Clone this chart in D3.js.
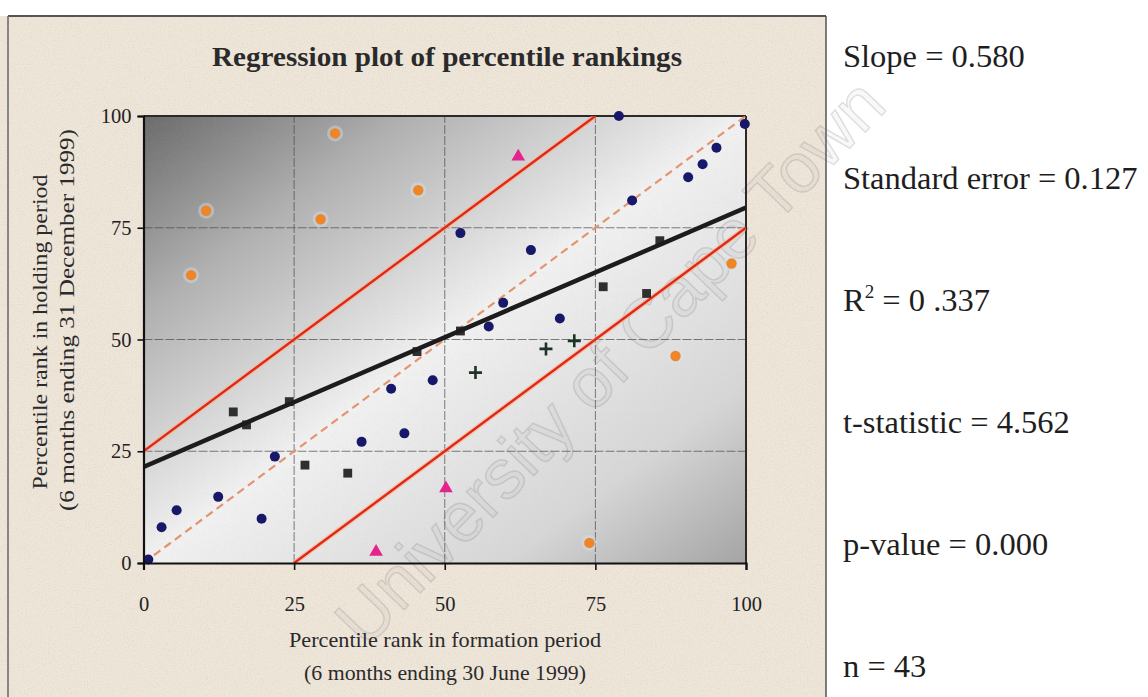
<!DOCTYPE html>
<html>
<head>
<meta charset="utf-8">
<script src="https://cdn.jsdelivr.net/npm/d3@7"></script>
<style>
  html, body { margin: 0; padding: 0; background: #ffffff; }
  svg { display: block; }
  text { font-family: "Liberation Serif", "Times New Roman", serif; }
</style>
</head>
<body>
<div id="chart"></div>
<script>
// ---------------- DATA ----------------
const chartTitle = "Regression plot of percentile rankings";
const xTitleLines = ["Percentile rank in formation period", "(6 months ending 30 June 1999)"];
const yTitleLines = ["Percentile rank in holding period", "(6 months ending 31 December 1999)"];
const tickValues = [0, 25, 50, 75, 100];
const gridValues = [25, 50, 75];

// [formation rank, holding rank]
const bluePoints = [
  [0.8, 0.8], [3, 8], [5.5, 11.8], [12.4, 14.8], [19.6, 9.9], [21.8, 23.8],
  [36.2, 27.1], [41.1, 39], [43.3, 29], [48, 40.9], [52.6, 73.8], [57.3, 52.9],
  [59.7, 58.2], [64.3, 70], [69.1, 54.7], [78.9, 100], [81.1, 81.1], [90.4, 86.3],
  [92.8, 89.2], [95.1, 92.9], [99.8, 98.2]
];
const squarePoints = [
  [14.9, 33.8], [17.1, 30.9], [24.2, 36.1], [26.8, 21.9], [33.9, 20.1],
  [45.4, 47.3], [52.6, 51.9], [76.3, 61.8], [83.5, 60.3], [85.7, 72.1]
];
const orangePoints = [
  [7.9, 64.4], [10.4, 78.8], [29.4, 76.9], [31.8, 96.1], [45.6, 83.4],
  [74, 4.5], [88.3, 46.3], [97.6, 67]
];
const trianglePoints = [[38.6, 2.5], [50.2, 16.7], [62.2, 90.9]];
const plusPoints = [[55.1, 42.6], [66.8, 47.9], [71.5, 49.7]];

// reference lines
const regressionLine = [[0, 21.5], [100, 79.5]];
const diagonalLine = [[0, 0], [100, 100]];
const upperBand = [[0, 25], [75, 100]];
const lowerBand = [[25, 0], [100, 75]];

const statLines = [
  {label: "Slope = 0.580"},
  {label: "Standard error = 0.127"},
  {label: "R", sup: "2", rest: " = 0 .337"},
  {label: "t-statistic = 4.562"},
  {label: "p-value = 0.000"},
  {label: "n = 43"}
];
const watermark = "University of Cape Town";

// ---------------- LAYOUT ----------------
const W = 1148, H = 697;
const plot = {left: 143.5, right: 746, top: 116, bottom: 563};

const svg = d3.select("#chart").append("svg")
  .attr("width", W).attr("height", H);

const defs = svg.append("defs");

const grad = defs.append("linearGradient").attr("id", "plotGrad")
  .attr("x1", 0).attr("y1", 0).attr("x2", 1).attr("y2", 1);
grad.append("stop").attr("offset", 0).attr("stop-color", "#6a6a6a");
grad.append("stop").attr("offset", 0.22).attr("stop-color", "#b0b0b0");
grad.append("stop").attr("offset", 0.5).attr("stop-color", "#f1f1f1");
grad.append("stop").attr("offset", 0.8).attr("stop-color", "#d6d6d6");
grad.append("stop").attr("offset", 1).attr("stop-color", "#a4a4a4");

const paper = defs.append("filter").attr("id", "paperNoise")
  .attr("x", 0).attr("y", 0).attr("width", 1).attr("height", 1);
paper.append("feTurbulence").attr("type", "fractalNoise")
  .attr("baseFrequency", 0.7).attr("numOctaves", 2).attr("seed", 7).attr("result", "n");
paper.append("feColorMatrix").attr("in", "n").attr("type", "matrix")
  .attr("values", "0 0 0 0 0.62  0 0 0 0 0.55  0 0 0 0 0.47  0 0 0 -2.2 1.25");

const speck = defs.append("filter").attr("id", "plotNoise")
  .attr("x", 0).attr("y", 0).attr("width", 1).attr("height", 1);
speck.append("feTurbulence").attr("type", "fractalNoise")
  .attr("baseFrequency", 1.1).attr("numOctaves", 1).attr("seed", 3).attr("result", "n");
speck.append("feColorMatrix").attr("in", "n").attr("type", "matrix")
  .attr("values", "0 0 0 0 0.5  0 0 0 0 0.5  0 0 0 0 0.5  0 0 0 -2.4 1.2");

defs.append("clipPath").attr("id", "plotClip")
  .append("rect")
  .attr("x", plot.left).attr("y", plot.top)
  .attr("width", plot.right - plot.left).attr("height", plot.bottom - plot.top);

// page background
svg.append("rect").attr("x", 0).attr("y", 0).attr("width", 826).attr("height", H)
  .attr("fill", "#efe6da");
svg.append("rect").attr("x", 0).attr("y", 0).attr("width", 826).attr("height", H)
  .attr("filter", "url(#paperNoise)").attr("opacity", 0.35);
svg.append("rect").attr("x", 826).attr("y", 0).attr("width", W - 826).attr("height", H)
  .attr("fill", "#ffffff");
svg.append("rect").attr("x", 0).attr("y", 0).attr("width", 826).attr("height", 16)
  .attr("fill", "#ffffff");

// frame lines
svg.append("line").attr("x1", 8).attr("x2", 826).attr("y1", 16).attr("y2", 16)
  .attr("stroke", "#555").attr("stroke-width", 2);
svg.append("line").attr("x1", 8).attr("x2", 8).attr("y1", 16).attr("y2", H)
  .attr("stroke", "#666").attr("stroke-width", 1.5);
svg.append("line").attr("x1", 826).attr("x2", 826).attr("y1", 16).attr("y2", H)
  .attr("stroke", "#555").attr("stroke-width", 1.5);

// scales
const x = d3.scaleLinear().domain([0, 100]).range([plot.left, plot.right]);
const y = d3.scaleLinear().domain([0, 100]).range([plot.bottom, plot.top]);

// plot area
svg.append("rect")
  .attr("x", x(0)).attr("y", y(100))
  .attr("width", x(100) - x(0)).attr("height", y(0) - y(100))
  .attr("fill", "url(#plotGrad)");
svg.append("rect")
  .attr("x", x(0)).attr("y", y(100))
  .attr("width", x(100) - x(0)).attr("height", y(0) - y(100))
  .attr("filter", "url(#plotNoise)").attr("opacity", 0.18);

// faint scan watermark (behind chart marks)
svg.append("text")
  .attr("transform", "translate(610,362) rotate(-46)")
  .attr("text-anchor", "middle")
  .attr("dominant-baseline", "central")
  .style("font-family", "'Liberation Sans', Arial, sans-serif")
  .style("font-size", "70px")
  .attr("fill", "rgba(140,140,140,0.06)")
  .attr("stroke", "rgba(110,110,110,0.20)")
  .attr("stroke-width", 1.5)
  .text(watermark);

// gridlines
const grid = svg.append("g");
grid.selectAll("line.gx").data(gridValues).join("line")
  .attr("x1", d => x(d)).attr("x2", d => x(d))
  .attr("y1", y(0)).attr("y2", y(100))
  .attr("stroke", "#4a4a4a").attr("stroke-width", 1)
  .attr("stroke-dasharray", "9,2").attr("opacity", 0.7);
grid.selectAll("line.gy").data(gridValues).join("line")
  .attr("y1", d => y(d)).attr("y2", d => y(d))
  .attr("x1", x(0)).attr("x2", x(100))
  .attr("stroke", "#4a4a4a").attr("stroke-width", 1)
  .attr("stroke-dasharray", "9,2").attr("opacity", 0.7);

// plot border (top/right)
svg.append("line").attr("x1", x(0)).attr("x2", x(100)).attr("y1", y(100)).attr("y2", y(100))
  .attr("stroke", "#2a2a2a").attr("stroke-width", 2);
svg.append("line").attr("x1", x(100)).attr("x2", x(100)).attr("y1", y(100)).attr("y2", y(0))
  .attr("stroke", "#2a2a2a").attr("stroke-width", 2);

const lineGen = d3.line().x(d => x(d[0])).y(d => y(d[1]));
const lines = svg.append("g").attr("clip-path", "url(#plotClip)");

// dashed 45-degree line
lines.append("path").datum(diagonalLine).attr("d", lineGen)
  .attr("fill", "none").attr("stroke", "#e39470").attr("stroke-width", 2.2)
  .attr("stroke-dasharray", "8,5");

// red band lines (with soft halo)
[upperBand, lowerBand].forEach(band => {
  lines.append("path").datum(band).attr("d", lineGen)
    .attr("fill", "none").attr("stroke", "#f7b58a").attr("stroke-width", 5).attr("opacity", 0.6);
  lines.append("path").datum(band).attr("d", lineGen)
    .attr("fill", "none").attr("stroke", "#e0281a").attr("stroke-width", 2.4);
});

const marks = svg.append("g");

// squares
marks.selectAll("path.sq").data(squarePoints).join("path")
  .attr("transform", d => `translate(${x(d[0])},${y(d[1])})`)
  .attr("d", d3.symbol().type(d3.symbolSquare).size(78))
  .attr("fill", "#2f2f2f");

// regression line
svg.append("path").datum(regressionLine).attr("d", lineGen)
  .attr("clip-path", "url(#plotClip)")
  .attr("fill", "none").attr("stroke", "#1c1c1c").attr("stroke-width", 4.5);

// orange circles (with pale halo)
const og = svg.append("g");
og.selectAll("circle.halo").data(orangePoints).join("circle")
  .attr("cx", d => x(d[0])).attr("cy", d => y(d[1])).attr("r", 8)
  .attr("fill", "#d6e4f2").attr("opacity", 0.4);
og.selectAll("circle.dot").data(orangePoints).join("circle")
  .attr("cx", d => x(d[0])).attr("cy", d => y(d[1])).attr("r", 5.2)
  .attr("fill", "#ee8526");

// blue circles
svg.append("g").selectAll("circle").data(bluePoints).join("circle")
  .attr("cx", d => x(d[0])).attr("cy", d => y(d[1])).attr("r", 5)
  .attr("fill", "#18186a");

// magenta triangles
svg.append("g").selectAll("path").data(trianglePoints).join("path")
  .attr("transform", d => `translate(${x(d[0])},${y(d[1])})`)
  .attr("d", d3.symbol().type(d3.symbolTriangle).size(80))
  .attr("fill", "#e4238c");

// plus signs
svg.append("g").selectAll("path").data(plusPoints).join("path")
  .attr("transform", d => `translate(${x(d[0])},${y(d[1])})`)
  .attr("d", "M-6.5,0H6.5M0,-6.5V6.5")
  .attr("stroke", "#1d3326").attr("stroke-width", 2.6).attr("fill", "none");

// axes
const yAxis = svg.append("g").attr("transform", `translate(${x(0)},0)`)
  .call(d3.axisLeft(y).tickValues(tickValues).tickSize(6).tickPadding(6).tickFormat(d3.format("d")));
const xAxis = svg.append("g").attr("transform", `translate(0,${y(0)})`)
  .call(d3.axisBottom(x).tickValues(tickValues).tickSize(7).tickPadding(26).tickFormat(d3.format("d")));
[yAxis, xAxis].forEach(a => {
  a.select(".domain").attr("stroke", "#111").attr("stroke-width", 2.2);
  a.selectAll(".tick line").attr("stroke", "#111").attr("stroke-width", 1.6);
  a.selectAll(".tick text")
    .style("font-family", "'Liberation Serif', 'Times New Roman', serif")
    .style("font-size", "20.5px").attr("fill", "#222");
});

// title
svg.append("text")
  .attr("x", 447).attr("y", 66)
  .attr("text-anchor", "middle")
  .style("font-size", "27px").style("font-weight", "bold").attr("fill", "#2a2a2a")
  .attr("textLength", 470).attr("lengthAdjust", "spacingAndGlyphs")
  .text(chartTitle);

// x axis title
const xTitleLens = [312, 282];
xTitleLines.forEach((t, i) => {
  svg.append("text")
    .attr("x", 445).attr("y", 647 + i * 33)
    .attr("text-anchor", "middle")
    .style("font-size", "22px").attr("fill", "#2a2a2a")
    .attr("textLength", xTitleLens[i]).attr("lengthAdjust", "spacingAndGlyphs")
    .text(t);
});

// y axis title
const yTitleLens = [315, 382];
const yTitleCenters = [332, 320];
yTitleLines.forEach((t, i) => {
  svg.append("text")
    .attr("transform", `translate(${47 + i * 27},${yTitleCenters[i]}) rotate(-90)`)
    .attr("text-anchor", "middle")
    .style("font-size", "22px").attr("fill", "#2a2a2a")
    .attr("textLength", yTitleLens[i]).attr("lengthAdjust", "spacingAndGlyphs")
    .text(t);
});

// statistics panel
const statG = svg.append("g");
statLines.forEach((s, i) => {
  const t = statG.append("text")
    .attr("x", 843).attr("y", 67 + i * 122)
    .style("font-size", "32.5px").attr("fill", "#1e1e1e");
  if (s.sup) {
    t.append("tspan").text(s.label);
    t.append("tspan").attr("dy", -13).style("font-size", "19px").text(s.sup);
    t.append("tspan").attr("dy", 13).text(s.rest);
  } else {
    t.text(s.label);
  }
});
</script>
</body>
</html>
